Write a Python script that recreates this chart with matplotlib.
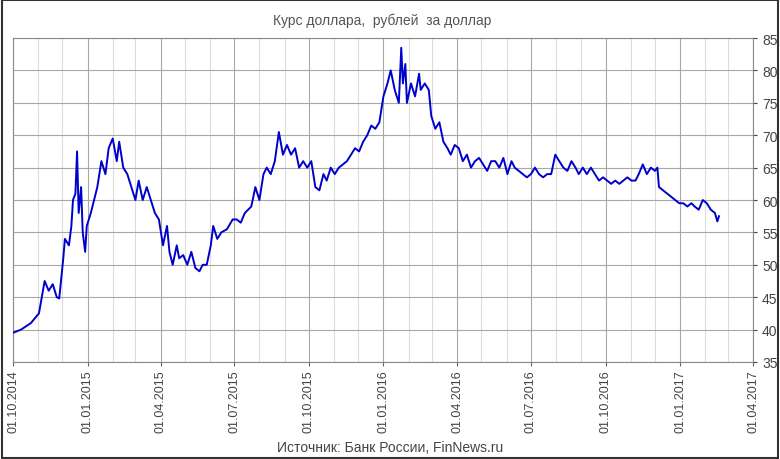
import matplotlib
matplotlib.use("Agg")
import matplotlib.pyplot as plt
import matplotlib.dates as mdates
import datetime as dt

plt.rcParams['font.family'] = ['Liberation Sans', 'DejaVu Sans']

start = dt.date(2014, 10, 1)
day_offsets = [0,10,22,32,39,44,49,54,57,62,64,69,72,74,77,79,81,84,86,89,91,96,104,109,114,118,123,128,131,136,141,146,151,155,160,165,170,175,180,185,190,193,197,202,205,210,215,220,225,230,234,239,244,247,252,257,264,271,276,281,286,294,299,304,309,313,318,323,328,333,338,343,348,353,358,363,368,373,378,383,387,392,397,402,407,412,417,422,427,432,437,442,447,452,457,462,466,471,476,479,481,484,486,491,496,501,503,508,513,516,521,526,531,536,540,545,550,555,560,565,570,575,580,585,590,595,600,605,610,615,619,624,629,634,639,644,649,654,659,664,669,674,679,684,689,694,698,703,708,713,718,723,728,733,738,743,748,753,758,763,768,772,777,782,787,792,795,797,802,807,812,817,822,827,832,837,841,846,851,856,861,866,869,871]
rate = [39.5,40,41,42.5,47.5,46,47,45,44.8,51,54,53,56,60,61,67.5,58,62,55,52,56,58,62,66,64,68,69.5,66,69,65,64,62,60,63,60,62,60,58,57,53,56,52,50,53,51,51.5,50,52,49.5,49,50,50,53,56,54,55,55.5,57,57,56.5,58,59,62,60,64,65,64,66,70.5,67,68.5,67,68,65,66,65,66,62,61.5,64,63,65,64,65,65.5,66,67,68,67.5,69,70,71.5,71,72,76,78,80,77,75,83.5,78,81,75,78,76,79.5,77,78,77,73,71,72,69,68,67,68.5,68,66,67,65,66,66.5,65.5,64.5,66,66,65,66.5,64,66,65,64.5,64,63.5,64,65,64,63.5,64,64,67,66,65,64.5,66,65,64,65,64,65,64,63,63.5,63,62.5,63,62.5,63,63.5,63,63,64,65.5,64,65,64.5,65,62,61.5,61,60.5,60,59.5,59.5,59,59.5,59,58.5,60,59.5,58.5,58,56.7,57.5]
tick_labels = ["01.10.2014","01.01.2015","01.04.2015","01.07.2015","01.10.2015","01.01.2016","01.04.2016","01.07.2016","01.10.2016","01.01.2017","01.04.2017"]

dates = [start + dt.timedelta(days=d) for d in day_offsets]
ticks = [dt.datetime.strptime(s, "%d.%m.%Y").date() for s in tick_labels]

fig = plt.figure(figsize=(7.8, 4.6), dpi=100)
ax = fig.add_axes([0.0167, 0.211, 0.9487, 0.704])
ax.plot(dates, rate, color="#0000cc", lw=1.4, zorder=3)
ax.set_xlim(ticks[0], ticks[-1])
ax.set_ylim(35, 85)
ax.set_yticks(range(35, 90, 5))
ax.set_xticks(ticks)
ax.xaxis.set_minor_locator(mdates.MonthLocator())
ax.set_xticklabels(tick_labels, rotation=90, fontsize=9, color="#444444")
ax.yaxis.tick_right()
ax.tick_params(axis="y", labelsize=10, colors="#444444", length=3)
ax.tick_params(axis="x", which="major", length=3, pad=2, colors="#666666", labelcolor="#444444")
ax.tick_params(axis="x", which="minor", length=0)
ax.grid(True, axis="y", color="#a8a8a8", lw=0.8)
ax.grid(True, axis="x", which="major", color="#a8a8a8", lw=0.8)
ax.grid(True, axis="x", which="minor", color="#dcdcdc", lw=0.8)
for s in ax.spines.values():
    s.set_color("#888888")
fig.patches.append(plt.Rectangle((0.002, 0.003), 0.996, 0.994, transform=fig.transFigure,
                                 fill=False, edgecolor="#333333", lw=1.5))
fig.text(0.49, 0.945, "Курс доллара,  рублей  за доллар", ha="center", fontsize=10, color="#555555")
fig.text(0.5, 0.018, "Источник: Банк России, FinNews.ru", ha="center", fontsize=10, color="#444444")
fig.savefig("out.png", dpi=100)
